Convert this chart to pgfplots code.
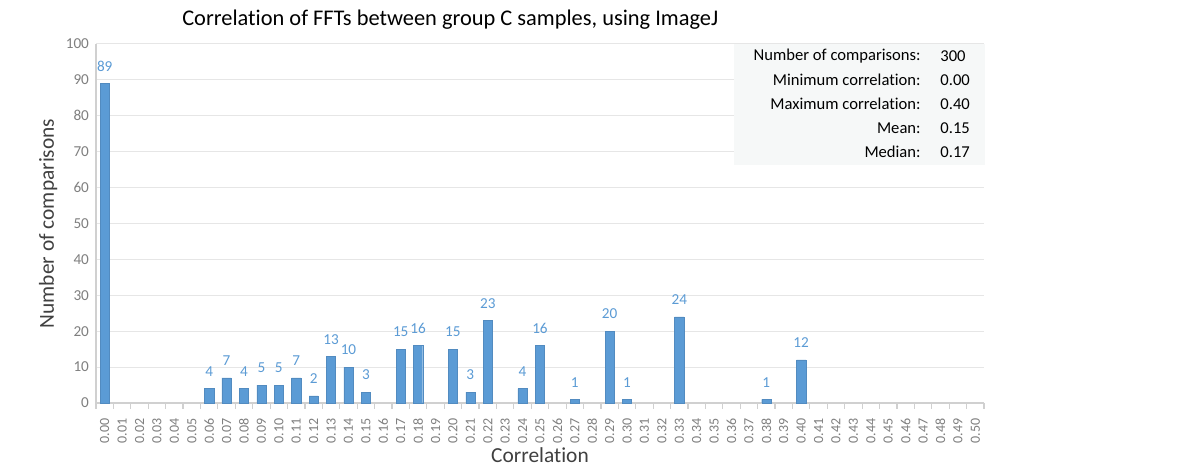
\documentclass[border=0pt]{standalone}
\usepackage{pgfplots}
\pgfplotsset{compat=1.18}
\usepackage{fontspec}
\setmainfont{Carlito}[Ligatures=NoCommon]
\definecolor{barblue}{HTML}{5B9BD5}
\definecolor{tickgray}{HTML}{7F7F7F}
\definecolor{gridgray}{HTML}{E6E6E6}
\definecolor{axgray}{HTML}{D0D0D0}
\definecolor{boxbg}{HTML}{F6F8F8}
\definecolor{txt}{HTML}{404040}
\begin{document}
\begin{tikzpicture}
\path[use as bounding box, fill=white] (0,0) rectangle (600pt,234.5pt);
\begin{axis}[
  at={(48pt,33pt)}, anchor=south west,
  scale only axis, width=444pt, height=179.5pt,
  ybar, bar width=4.6pt,
  xmin=-0.5, xmax=50.5, ymin=0, ymax=100,
  ytick={0,10,...,100},
  xtick={0,...,50},
  xticklabel={\pgfmathparse{\tick/100}\pgfmathprintnumber[fixed,fixed zerofill,precision=2]{\pgfmathresult}},
  x tick label style={rotate=90, anchor=east, font=\fontsize{7}{8}\selectfont, text=tickgray},
  y tick label style={font=\fontsize{7.6}{9}\selectfont, text=tickgray},
  /pgf/number format/assume math mode=true,
  major x tick style={draw=none},
  minor xtick={-0.5,0.5,...,50.5},
  minor x tick style={draw=axgray, line width=0.6pt},
  minor tick length=3pt,
  xtick align=outside,
  major y tick style={draw=none},
  ymajorgrids, grid style={draw=gridgray, line width=0.5pt},
  minor grid style={draw=none},
  axis x line*=bottom, axis y line*=left,
  axis line style={draw=axgray, line width=0.6pt},
  x axis line style={-}, y axis line style={-},
  xlabel={Correlation}, ylabel={Number of comparisons},
  xlabel style={at={(axis description cs:0.5,-0.145)}, anchor=center, font=\fontsize{10.7}{12}\selectfont, text=txt},
  ylabel style={at={(axis description cs:-0.054,0.5)}, anchor=center, font=\fontsize{10.7}{12}\selectfont, text=txt},
  title={Correlation of FFTs between group C samples, using ImageJ},
  title style={at={(axis description cs:0.399,1.067)}, anchor=center, yshift=-6pt, font=\fontsize{11.2}{13}\selectfont, text=black},
  nodes near coords,
  every node near coord/.append style={font=\fontsize{7.6}{9}\selectfont, text=barblue, inner sep=0pt, yshift=6pt},
  clip=false,
]
\addplot[fill=barblue, draw=barblue!90!black, line width=0.2pt] table[x=x,y=y] {
x y
0 89
6 4
7 7
8 4
9 5
10 5
11 7
12 2
13 13
14 10
15 3
17 15
18 16
20 15
21 3
22 23
24 4
25 16
27 1
29 20
30 1
33 24
38 1
40 12
};
\end{axis}
\fill[boxbg] (367pt,152pt) rectangle (492.5pt,212.5pt);
\begin{scope}[every node/.style={font=\fontsize{8.3}{10}\selectfont, text=black, inner sep=0pt}]
\node[anchor=east] at (460.5pt,206.5pt) {Number of comparisons:};
\node[anchor=east] at (460.5pt,194.5pt) {Minimum correlation:};
\node[anchor=east] at (460.5pt,182.5pt) {Maximum correlation:};
\node[anchor=east] at (460.5pt,170.5pt) {Mean:};
\node[anchor=east] at (460.5pt,158.5pt) {Median:};
\node[anchor=west] at (470pt,206.5pt) {300};
\node[anchor=west] at (470pt,194.5pt) {0.00};
\node[anchor=west] at (470pt,182.5pt) {0.40};
\node[anchor=west] at (470pt,170.5pt) {0.15};
\node[anchor=west] at (470pt,158.5pt) {0.17};
\end{scope}
\end{tikzpicture}
\end{document}
